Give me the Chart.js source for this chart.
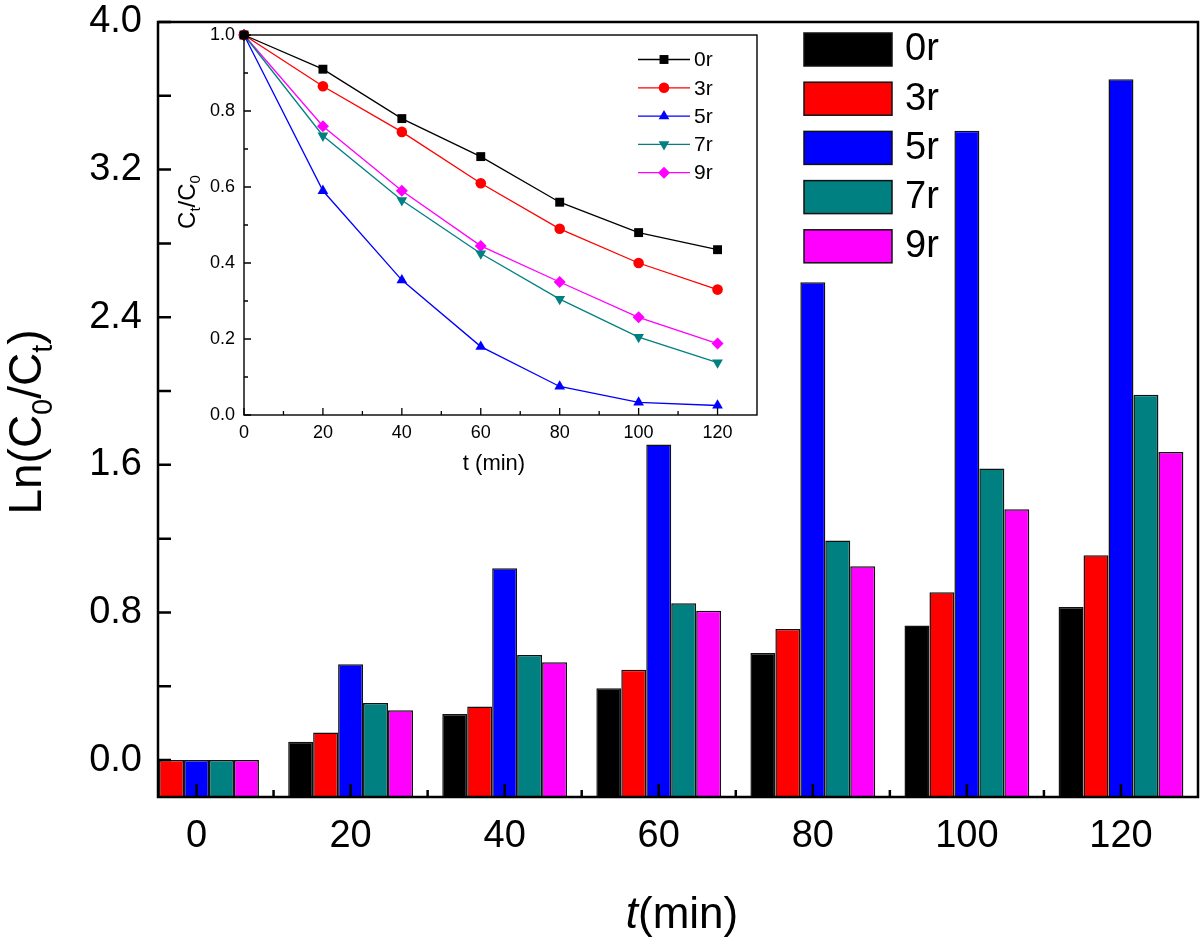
<!DOCTYPE html>
<html>
<head>
<meta charset="utf-8">
<title>Ln(C0/Ct) vs t</title>
<script src="https://cdn.jsdelivr.net/npm/chart.js@4/dist/chart.umd.min.js"></script>
<style>
    body { margin: 0; background: #ffffff; }
    #wrap { position: relative; width: 1200px; height: 941px; overflow: hidden; }
    #mainChart { position: absolute; left: 0; top: 0; }
    #insetChart { position: absolute; left: 165px; top: 22px; }
</style>
</head>
<body>
<div id="wrap">
    <canvas id="mainChart" width="1200" height="941"></canvas>
    <canvas id="insetChart" width="601" height="462"></canvas>
</div>
<script>
// data
var times = [0, 20, 40, 60, 80, 100, 120];
var seriesNames = ["0r", "3r", "5r", "7r", "9r"];

// main plot: Ln(C0/Ct)
var ln0r = [0, 0.10, 0.25, 0.39, 0.58, 0.73, 0.83];
var ln3r = [0, 0.15, 0.29, 0.49, 0.71, 0.91, 1.11];
var ln5r = [0, 0.52, 1.04, 1.71, 2.59, 3.41, 3.69];
var ln7r = [0, 0.31, 0.57, 0.85, 1.19, 1.58, 1.98];
var ln9r = [0, 0.27, 0.53, 0.81, 1.05, 1.36, 1.67];

// inset: Ct/C0
var ct0r = [1.0, 0.91, 0.78, 0.68, 0.56, 0.48, 0.435];
var ct3r = [1.0, 0.865, 0.745, 0.61, 0.49, 0.40, 0.33];
var ct5r = [1.0, 0.59, 0.355, 0.18, 0.075, 0.033, 0.025];
var ct7r = [1.0, 0.735, 0.565, 0.425, 0.305, 0.205, 0.138];
var ct9r = [1.0, 0.76, 0.59, 0.445, 0.35, 0.257, 0.188];

// tick labels
var mainXTicks = [0, 20, 40, 60, 80, 100, 120];
var mainYTicks = [0, 0.8, 1.6, 2.4, 3.2, 4.0];
var insetXTicks = [0, 20, 40, 60, 80, 100, 120];
var insetYTicks = [0, 0.2, 0.4, 0.6, 0.8, 1.0];

// styles
var colors = ["#000000", "#ff0000", "#0000ff", "#008080", "#ff00ff"];
var pointStyles = ["rect", "circle", "triangle", "triangle", "rectRot"];
var pointRotations = [0, 0, 0, 180, 0];
var pointRadii = [6.3, 5.3, 6.2, 6.2, 6];
var FONT = "'Liberation Sans', Arial, Helvetica, sans-serif";

var lnSeries = [ln0r, ln3r, ln5r, ln7r, ln9r];
var ctSeries = [ct0r, ct3r, ct5r, ct7r, ct9r];

function toPoints(vals) {
    return times.map(function (t, i) { return { x: t, y: vals[i] }; });
}

function minorValues(majors, min, max) {
    var step = majors[1] - majors[0];
    var out = [];
    for (var v = majors[0] - step / 2; v < max; v += step) {
        if (v > min + 1e-9) out.push(v);
    }
    return out;
}

// frame box + inward ticks
function drawFrame(chart, cfg) {
    var ctx = chart.ctx, a = chart.chartArea;
    var xs = chart.scales.x, ys = chart.scales.y;
    ctx.save();
    ctx.strokeStyle = "#000";
    ctx.lineWidth = cfg.tickWidth;
    ctx.beginPath();
    cfg.xMajor.forEach(function (v) {
        var px = xs.getPixelForValue(v);
        ctx.moveTo(px, a.bottom); ctx.lineTo(px, a.bottom - cfg.xMajorLen);
    });
    minorValues(cfg.xMajor, xs.min, xs.max).forEach(function (v) {
        var px = xs.getPixelForValue(v);
        ctx.moveTo(px, a.bottom); ctx.lineTo(px, a.bottom - cfg.xMinorLen);
    });
    cfg.yMajor.forEach(function (v) {
        var py = ys.getPixelForValue(v);
        ctx.moveTo(a.left, py); ctx.lineTo(a.left + cfg.yMajorLen, py);
    });
    minorValues(cfg.yMajor, ys.min, ys.max).forEach(function (v) {
        var py = ys.getPixelForValue(v);
        ctx.moveTo(a.left, py); ctx.lineTo(a.left + cfg.yMinorLen, py);
    });
    ctx.stroke();
    ctx.lineWidth = cfg.frameWidth;
    ctx.strokeRect(a.left, a.top, a.right - a.left, a.bottom - a.top);
    ctx.restore();
}

// text made of pieces (subscripts, italics), centred on x, baseline at y
function drawRichText(ctx, parts, x, y, rotate) {
    ctx.save();
    ctx.translate(x, y);
    if (rotate) ctx.rotate(-Math.PI / 2);
    ctx.fillStyle = "#000";
    ctx.textBaseline = "alphabetic";
    ctx.textAlign = "left";
    var total = 0;
    parts.forEach(function (p) {
        ctx.font = (p.italic ? "italic " : "") + p.size + "px " + FONT;
        p.w = ctx.measureText(p.text).width;
        total += p.w;
    });
    var cx = -total / 2;
    parts.forEach(function (p) {
        ctx.font = (p.italic ? "italic " : "") + p.size + "px " + FONT;
        ctx.fillText(p.text, cx, p.dy || 0);
        cx += p.w;
    });
    ctx.restore();
}

// keep the plot box exactly where the layout padding puts it
function noLabelPadding(axis) {
    axis.paddingTop = 0;
    axis.paddingBottom = 0;
    axis.paddingLeft = 0;
    axis.paddingRight = 0;
}

var mainDecor = {
    id: "mainDecor",
    afterDraw: function (chart) {
        var ctx = chart.ctx;
        drawFrame(chart, {
            xMajor: mainXTicks, yMajor: mainYTicks,
            xMajorLen: 13, xMinorLen: 7, yMajorLen: 13, yMinorLen: 13,
            tickWidth: 2.5, frameWidth: 2.5
        });

        // axis titles
        drawRichText(ctx, [
            { text: "Ln(C", size: 46 },
            { text: "0", size: 29, dy: 11 },
            { text: "/C", size: 46 },
            { text: "t", size: 29, dy: 11 },
            { text: ")", size: 46 }
        ], 41, 422, true);
        drawRichText(ctx, [
            { text: "t", size: 44, italic: true },
            { text: "(min)", size: 44 }
        ], 682, 928, false);

        // legend
        ctx.save();
        ctx.font = "38px " + FONT;
        ctx.textBaseline = "middle";
        ctx.textAlign = "left";
        seriesNames.forEach(function (name, i) {
            var top = 33 + i * 49.2;
            ctx.fillStyle = colors[i];
            ctx.fillRect(804, top, 88, 33);
            ctx.lineWidth = 1.5;
            ctx.strokeStyle = "#111";
            ctx.strokeRect(804, top, 88, 33);
            ctx.fillStyle = "#000";
            ctx.fillText(name, 905, top + 17);
        });
        ctx.restore();
    }
};

var mainChart = new Chart(document.getElementById("mainChart"), {
    type: "bar",
    data: {
        datasets: seriesNames.map(function (name, i) {
            return {
                label: name,
                data: toPoints(lnSeries[i]),
                backgroundColor: colors[i],
                borderColor: "#111",
                borderWidth: 1.5,
                base: -0.2,
                categoryPercentage: 0.81,
                barPercentage: 1.0
            };
        })
    },
    options: {
        responsive: false,
        animation: false,
        events: [],
        layout: { padding: { top: 22, right: 2, left: 0, bottom: 0 } },
        plugins: { legend: { display: false }, tooltip: { enabled: false } },
        scales: {
            x: {
                type: "linear",
                min: -5,
                max: 130,
                offset: false,
                afterBuildTicks: function (axis) {
                    axis.ticks = mainXTicks.map(function (v) { return { value: v }; });
                },
                afterFit: function (axis) { axis.height = 144; noLabelPadding(axis); },
                grid: { display: false, drawTicks: false },
                border: { display: false },
                ticks: {
                    color: "#000", padding: 17, maxRotation: 0, autoSkip: false,
                    font: { family: FONT, size: 38 }
                }
            },
            y: {
                min: -0.2,
                max: 4.0,
                afterBuildTicks: function (axis) {
                    axis.ticks = mainYTicks.map(function (v) { return { value: v }; });
                },
                afterFit: function (axis) { axis.width = 158; noLabelPadding(axis); },
                grid: { display: false, drawTicks: false },
                border: { display: false },
                ticks: {
                    color: "#000", padding: 16,
                    font: { family: FONT, size: 38 },
                    callback: function (v) { return Number(v).toFixed(1); }
                }
            }
        }
    },
    plugins: [mainDecor]
});

var insetDecor = {
    id: "insetDecor",
    beforeDraw: function (chart) {
        var a = chart.chartArea, ctx = chart.ctx;
        ctx.save();
        ctx.fillStyle = "#fff";
        ctx.fillRect(a.left, a.top, a.right - a.left, a.bottom - a.top);
        ctx.restore();
    },
    afterDraw: function (chart) {
        var ctx = chart.ctx;
        drawFrame(chart, {
            xMajor: insetXTicks, yMajor: insetYTicks,
            xMajorLen: 7, xMinorLen: 4, yMajorLen: 7, yMinorLen: 4,
            tickWidth: 1.3, frameWidth: 1.4
        });

        drawRichText(ctx, [
            { text: "C", size: 24 },
            { text: "t", size: 15, dy: 5 },
            { text: "/C", size: 24 },
            { text: "0", size: 15, dy: 5 }
        ], 30, 180, true);
        drawRichText(ctx, [{ text: "t (min)", size: 22 }], 329, 448, false);

        // legend: line + marker + name
        ctx.save();
        ctx.font = "21px " + FONT;
        ctx.textBaseline = "middle";
        ctx.textAlign = "left";
        seriesNames.forEach(function (name, i) {
            var y = 37.5 + i * 28.3;
            ctx.strokeStyle = colors[i];
            ctx.fillStyle = colors[i];
            ctx.lineWidth = 1.3;
            ctx.beginPath();
            ctx.moveTo(473, y); ctx.lineTo(525, y);
            ctx.stroke();
            Chart.helpers.drawPoint(ctx, {
                pointStyle: pointStyles[i], rotation: pointRotations[i],
                radius: pointRadii[i], borderWidth: 0
            }, 499, y);
            ctx.fillStyle = "#000";
            ctx.fillText(name, 529, y + 1);
        });
        ctx.restore();
    }
};

var insetChart = new Chart(document.getElementById("insetChart"), {
    type: "line",
    data: {
        datasets: seriesNames.map(function (name, i) {
            return {
                label: name,
                data: toPoints(ctSeries[i]),
                borderColor: colors[i],
                backgroundColor: colors[i],
                borderWidth: 1.3,
                pointStyle: pointStyles[i],
                rotation: pointRotations[i],
                pointRadius: pointRadii[i],
                pointBorderWidth: 0,
                tension: 0,
                clip: false
            };
        })
    },
    options: {
        responsive: false,
        animation: false,
        events: [],
        layout: { padding: { top: 13, right: 9, left: 0, bottom: 0 } },
        plugins: { legend: { display: false }, tooltip: { enabled: false } },
        scales: {
            x: {
                type: "linear",
                min: 0,
                max: 130,
                afterBuildTicks: function (axis) {
                    axis.ticks = insetXTicks.map(function (v) { return { value: v }; });
                },
                afterFit: function (axis) { axis.height = 69; noLabelPadding(axis); },
                grid: { display: false, drawTicks: false },
                border: { display: false },
                ticks: {
                    color: "#000", padding: 7, maxRotation: 0, autoSkip: false,
                    font: { family: FONT, size: 18 }
                }
            },
            y: {
                min: 0,
                max: 1.0,
                afterBuildTicks: function (axis) {
                    axis.ticks = insetYTicks.map(function (v) { return { value: v }; });
                },
                afterFit: function (axis) { axis.width = 79; noLabelPadding(axis); },
                grid: { display: false, drawTicks: false },
                border: { display: false },
                ticks: {
                    color: "#000", padding: 9,
                    font: { family: FONT, size: 18 },
                    callback: function (v) { return Number(v).toFixed(1); }
                }
            }
        }
    },
    plugins: [insetDecor]
});
</script>
</body>
</html>
